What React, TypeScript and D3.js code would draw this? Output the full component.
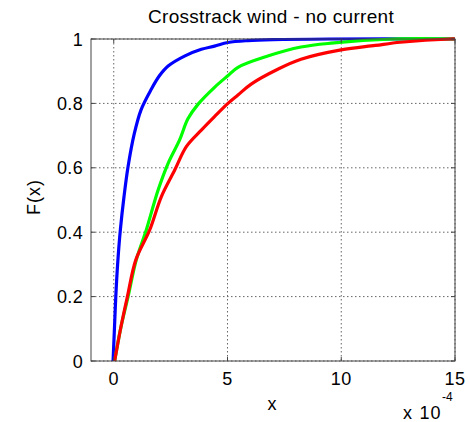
import React from "react";
import * as d3 from "d3";

// x values are in units of 1e-4
const blueX = [-0.03, 0.0, 0.03, 0.09, 0.17, 0.29, 0.45, 0.63, 0.9, 1.2, 1.65, 2.0, 2.39, 3.11, 3.85, 4.43, 5.02, 5.9, 7.0, 9.5, 15];
const blueF = [0, 0.05, 0.1, 0.2, 0.3, 0.407, 0.51, 0.604, 0.705, 0.78, 0.844, 0.885, 0.916, 0.947, 0.968, 0.978, 0.989, 0.995, 0.998, 1, 1];

const greenX = [0.04, 0.3, 0.63, 0.99, 1.43, 1.95, 2.39, 2.89, 3.26, 3.7, 4.43, 5.0, 5.46, 6.77, 8.23, 9.55, 12.3, 15];
const greenF = [0, 0.1, 0.2, 0.314, 0.407, 0.531, 0.614, 0.686, 0.752, 0.797, 0.85, 0.885, 0.912, 0.947, 0.975, 0.987, 1, 1];

const redX = [0.04, 0.3, 0.6, 0.97, 1.58, 2.09, 2.68, 3.19, 3.85, 4.43, 5.02, 5.46, 6.04, 7.21, 8.23, 9.99, 11.5, 12.6, 14.8, 15];
const redF = [0, 0.1, 0.2, 0.314, 0.407, 0.51, 0.593, 0.666, 0.717, 0.759, 0.8, 0.826, 0.86, 0.906, 0.937, 0.966, 0.98, 0.99, 1, 1];

const xTicks = [0, 5, 10, 15];
const yTicks = [0, 0.2, 0.4, 0.6, 0.8, 1];
const xTickLabels = ["0", "5", "10", "15"];
const yTickLabels = ["0", "0.2", "0.4", "0.6", "0.8", "1"];

const series = [
  { xs: blueX, fs: blueF, color: "#0000ff" },
  { xs: greenX, fs: greenF, color: "#00ff00" },
  { xs: redX, fs: redF, color: "#ff0000" },
];

const W = 470;
const H = 422;
const L = 91;
const R = 455;
const T = 39;
const B = 361;
const FONT = "'Liberation Sans', Arial, Helvetica, sans-serif";

export default function App() {
  const x = d3.scaleLinear().domain([-1, 15]).range([L, R]);
  const y = d3.scaleLinear().domain([0, 1]).range([B, T]);
  const line = d3
    .line<[number, number]>()
    .x((d) => x(d[0]))
    .y((d) => y(d[1]))
    .curve(d3.curveCatmullRom.alpha(0.5));

  return (
    <svg
      width={W}
      height={H}
      style={{ position: "absolute", left: 0, top: 0, background: "#fff" }}
      fontFamily={FONT}
    >
      <rect x={0} y={0} width={W} height={H} fill="#fff" />
      <defs>
        <clipPath id="plotclip">
          <rect x={L} y={T - 2} width={R - L} height={B - T + 4} />
        </clipPath>
      </defs>
      {/* grid */}
      {xTicks.map((t) => (
        <line
          key={"gx" + t}
          x1={x(t)}
          x2={x(t)}
          y1={T}
          y2={B}
          stroke="#666"
          strokeWidth={1}
          strokeDasharray="1.5,2.5"
        />
      ))}
      {yTicks.map((t) => (
        <line
          key={"gy" + t}
          x1={L}
          x2={R}
          y1={y(t)}
          y2={y(t)}
          stroke="#666"
          strokeWidth={1}
          strokeDasharray="1.5,2.5"
        />
      ))}
      {/* curves */}
      <g clipPath="url(#plotclip)">
        {series.map((s, i) => (
          <path
            key={i}
            d={line(s.xs.map((v, j) => [v, s.fs[j]] as [number, number])) || ""}
            fill="none"
            stroke={s.color}
            strokeWidth={3.2}
            strokeLinejoin="round"
          />
        ))}
      </g>
      {/* box */}
      <rect x={L} y={T} width={R - L} height={B - T} fill="none" stroke="#444" strokeWidth={1} />
      {/* ticks */}
      {xTicks.map((t) => (
        <g key={"tx" + t}>
          <line x1={x(t)} x2={x(t)} y1={B} y2={B - 4} stroke="#444" />
          <line x1={x(t)} x2={x(t)} y1={T} y2={T + 4} stroke="#444" />
        </g>
      ))}
      {yTicks.map((t) => (
        <g key={"ty" + t}>
          <line x1={L} x2={L + 4} y1={y(t)} y2={y(t)} stroke="#444" />
          <line x1={R} x2={R - 4} y1={y(t)} y2={y(t)} stroke="#444" />
        </g>
      ))}
      {/* tick labels */}
      {xTicks.map((t, i) => (
        <text key={"lx" + t} x={x(t)} y={385} fontSize={18} letterSpacing={0.5} textAnchor="middle" fill="#000">
          {xTickLabels[i]}
        </text>
      ))}
      {yTicks.map((t, i) => (
        <text key={"ly" + t} x={83} y={y(t) + 6.5} fontSize={18} letterSpacing={0.3} textAnchor="end" fill="#000">
          {yTickLabels[i]}
        </text>
      ))}
      {/* title */}
      <text x={271} y={23} fontSize={19} letterSpacing={0.3} textAnchor="middle" fill="#000">
        Crosstrack wind - no current
      </text>
      {/* axis labels */}
      <text x={272} y={410} fontSize={18} textAnchor="middle" fill="#000">
        x
      </text>
      <text x={40} y={197} fontSize={18} letterSpacing={1} textAnchor="middle" fill="#000" transform="rotate(-90 40 197)">
        F(x)
      </text>
      <text x={403} y={419} fontSize={18} letterSpacing={1.2} fill="#000">
        x 10
      </text>
      <text x={442} y={401} fontSize={12} fill="#000">
        -4
      </text>
    </svg>
  );
}
